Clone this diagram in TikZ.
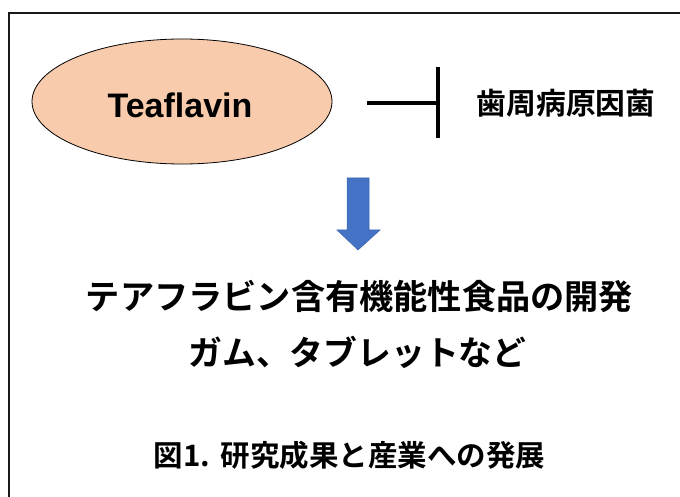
\documentclass[tikz,border=0pt]{standalone}
\usepackage{fontspec}
\usetikzlibrary{shapes.geometric}
\setmainfont{Liberation Sans}
\newfontfamily\jpfont{Noto Sans CJK JP}[BoldFont={* Bold}]
\begin{document}
\begin{tikzpicture}[x=1pt,y=-1pt,
  jptext/.style={font=\jpfont\bfseries, inner sep=0pt},
  inhib/.style={line width=3.5pt},
  bigarrow/.style={fill={rgb,255:red,68;green,114;blue,196}, draw={rgb,255:red,60;green,100;blue,175}, line width=0.5pt}]
\useasboundingbox (0,0) rectangle (680,497);
\fill[white] (0,0) rectangle (680,497);
% frame
\draw[line width=2pt, black!90] (9,497) -- (9,13.5) -- (681,13.5);
% ellipse
\node[ellipse, draw, line width=0.8pt, fill={rgb,255:red,248;green,203;blue,173},
  minimum width=300pt, minimum height=125pt, inner sep=0pt] (tf) at (182,101.5) {};
\node[font=\fontsize{34}{38}\selectfont\bfseries, inner sep=0pt, anchor=base] (tftext) at (180,118) {Teaflavin};
% inhibition
\coordinate (hs) at (367,103);
\coordinate (he) at (438,103);
\coordinate (bt) at (438,67);
\coordinate (bb) at (438,138);
\draw[inhib] (hs) -- (he);
\draw[inhib] (bt) -- (bb);
\node[jptext, font=\jpfont\bfseries\fontsize{29.8}{34}\selectfont] (bac) at (566,103.5) {歯周病原因菌};
% down arrow
\path[bigarrow] (347,178) -- (369,178) -- (369,230) -- (380,230) -- (358,250) -- (337,230) -- (347,230) -- cycle;
% texts
\node[jptext, font=\jpfont\bfseries\fontsize{34.2}{40}\selectfont] (l1) at (359.5,296) {テアフラビン含有機能性食品の開発};
\node[jptext, font=\jpfont\bfseries\fontsize{33.8}{40}\selectfont] (l2) at (357.5,352) {ガム、タブレットなど};
\node[jptext, font=\jpfont\bfseries\fontsize{29.5}{34}\selectfont] (cap) at (349.5,455) {図1.\hspace{0.35em}研究成果と産業への発展};
\end{tikzpicture}
\end{document}
